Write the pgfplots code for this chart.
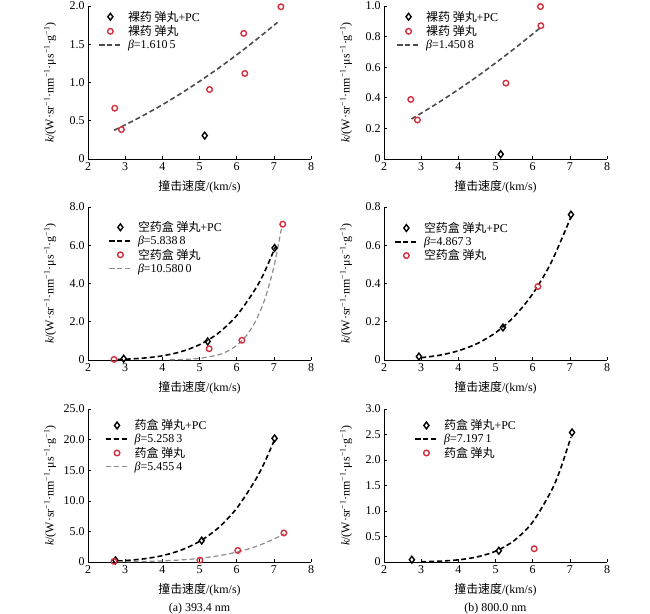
\documentclass[border=0pt]{standalone}
\usepackage{fontspec}
\setmainfont{Liberation Serif}
\newfontfamily\cjk{Noto Sans CJK SC}
\usepackage{pgfplots}
\pgfplotsset{compat=1.18}
\definecolor{myred}{RGB}{212,48,62}
\newcommand{\zh}[1]{{\cjk #1}}
\newcommand{\ylab}{\textit{k}/(W·sr\textsuperscript{−1}·nm\textsuperscript{−1}·μs\textsuperscript{−1}·g\textsuperscript{−1})}
\newcommand{\fs}{\fontsize{12}{13}\selectfont}
\pgfplotsset{
 myaxis/.style={
  scale only axis, width=223bp, height=153bp, anchor=south west,
  axis lines=left, axis line style={-, line width=0.6pt},
  xmin=2, xmax=8, ymin=0, xtick={2,3,...,8},
  tick align=inside, major tick length=3bp, tick style={line width=0.6pt, black},
  /pgf/number format/assume math mode=true,
  ticklabel style={font=\fs},
  label style={font=\fs},
  xlabel={\zh{撞击速度}/(km/s)},
  x label style={at={(axis description cs:0.5,-0.182)}, anchor=center},
  ylabel={\ylab},
  y label style={at={(axis description cs:-0.17,0.5)}, anchor=center},
  legend style={draw=none, fill=none, anchor=north west, font=\fs, inner sep=0pt, row sep=2bp,
     nodes={inner xsep=2.5bp, inner ysep=0.5bp},
     /tikz/every odd column/.append style={column sep=3bp}},
  legend cell align=left,
  legend image code/.code={\draw[mark repeat=2,mark phase=2,##1] plot coordinates {(0cm,0cm) (0.4cm,0cm) (0.8cm,0cm)};},
  title style={at={(axis description cs:0.5,-0.345)}, anchor=center, font=\fs},
  clip=false,
 },
 dia/.style={only marks, mark=diamond, mark size=3.4bp, mark options={solid, draw=black, fill=white, line width=1.4pt}},
 cir/.style={only marks, mark=o, mark size=2.8bp, mark options={solid, draw=myred, line width=1.4pt}},
 fitd/.style={no marks, smooth, black!70, dash pattern=on 5bp off 3bp, line width=1.6pt},
 fitb/.style={no marks, smooth, black, dash pattern=on 5bp off 3bp, line width=1.6pt},
 fitg/.style={no marks, smooth, black!45, dash pattern=on 5bp off 3bp, line width=1.2pt},
}
\begin{document}
\begin{tikzpicture}
\useasboundingbox (0,0) rectangle (650bp,614bp);
% ---------- top left
\begin{axis}[myaxis, at={(88bp,455bp)}, ymax=2.0,
  ytick={0,0.5,1,1.5,2}, yticklabels={0,0.5,1.0,1.5,2.0},
  legend style={at={(rel axis cs:0.045,0.972)}}]
\addplot[dia] coordinates {(5.14,0.306)};
\addlegendentry{\zh{裸药 弹丸}+PC}
\addplot[cir] coordinates {(2.72,0.664) (2.90,0.384) (5.27,0.908) (6.19,1.642) (6.22,1.118) (7.19,1.99)};
\addlegendentry{\zh{裸药 弹丸}}
\addplot[fitd] coordinates {(2.7,0.376) (3,0.446) (3.5,0.572) (4,0.709) (4.5,0.857) (5,1.015) (5.5,1.183) (6,1.361) (6.5,1.549) (7.1,1.786)};
\addlegendentry{\textit{β}=1.610\,5}
\end{axis}
% ---------- top right
\begin{axis}[myaxis, at={(384bp,455bp)}, ymax=1.0,
  ytick={0,0.2,0.4,0.6,0.8,1.0}, yticklabels={0,0.2,0.4,0.6,0.8,1.0},
  legend style={at={(rel axis cs:0.055,0.972)}}]
\addplot[dia] coordinates {(5.14,0.031)};
\addlegendentry{\zh{裸药 弹丸}+PC}
\addplot[cir] coordinates {(2.72,0.389) (2.90,0.255) (5.28,0.496) (6.21,0.996) (6.22,0.871)};
\addlegendentry{\zh{裸药 弹丸}}
\addplot[fitd] coordinates {(2.74,0.262) (3,0.299) (3.5,0.374) (4,0.454) (4.5,0.538) (5,0.627) (5.5,0.720) (6,0.817) (6.2,0.857)};
\addlegendentry{\textit{β}=1.450\,8}
\end{axis}
% ---------- middle left
\begin{axis}[myaxis, at={(88bp,254bp)}, ymax=8.0,
  ytick={0,2,4,6,8}, yticklabels={0,2.0,4.0,6.0,8.0},
  legend style={at={(rel axis cs:0.09,0.91)}}]
\addplot[dia] coordinates {(2.96,0.07) (5.22,0.97) (7.02,5.86)};
\addlegendentry{\zh{空药盒 弹丸}+PC}
\addplot[fitb] coordinates {(2.8,0.027) (3,0.041) (3.5,0.100) (4,0.217) (4.5,0.432) (5,0.800) (5.5,1.395) (6,2.318) (6.5,3.699) (6.75,4.608) (7.05,5.947)};
\addlegendentry{\textit{β}=5.838\,8}
\addplot[cir] coordinates {(2.70,0.03) (5.26,0.59) (6.14,1.03) (7.24,7.10)};
\addlegendentry{\zh{空药盒 弹丸}}
\addplot[fitg] coordinates {(4.2,0.01) (4.5,0.024) (5,0.086) (5.5,0.268) (5.75,0.457) (6,0.763) (6.25,1.245) (6.5,1.993) (6.75,3.135) (7,4.850) (7.22,7.03)};
\addlegendentry{\textit{β}=10.580\,0}
\end{axis}
% ---------- middle right
\begin{axis}[myaxis, at={(384bp,254bp)}, ymax=0.8,
  ytick={0,0.2,0.4,0.6,0.8}, yticklabels={0,0.2,0.4,0.6,0.8},
  legend style={at={(rel axis cs:0.045,0.905)}}]
\addplot[dia] coordinates {(2.94,0.018) (5.20,0.170) (7.03,0.760)};
\addlegendentry{\zh{空药盒 弹丸}+PC}
\addplot[fitb] coordinates {(3,0.0119) (3.5,0.0251) (4,0.0481) (4.5,0.0853) (5,0.1425) (5.5,0.2266) (6,0.3459) (6.5,0.5106) (7.03,0.748)};
\addlegendentry{\textit{β}=4.867\,3}
\addplot[cir] coordinates {(6.14,0.384)};
\addlegendentry{\zh{空药盒 弹丸}}
\end{axis}
% ---------- bottom left
\begin{axis}[myaxis, at={(88bp,52bp)}, ymax=25,
  ytick={0,5,10,15,20,25}, yticklabels={0,5.0,10.0,15.0,20.0,25.0},
  legend style={at={(rel axis cs:0.075,0.935)}},
  title={(a) 393.4 nm}]
\addplot[dia] coordinates {(2.74,0.27) (5.06,3.50) (7.02,20.2)};
\addlegendentry{\zh{药盒 弹丸}+PC}
\addplot[fitb] coordinates {(2.8,0.159) (3,0.229) (3.5,0.515) (4,1.039) (4.5,1.930) (5,3.359) (5.5,5.543) (6,8.761) (6.5,13.35) (6.75,16.27) (7.02,20.0)};
\addlegendentry{\textit{β}=5.258\,3}
\addplot[cir] coordinates {(2.70,0.10) (5.01,0.30) (6.03,1.89) (7.27,4.74)};
\addlegendentry{\zh{药盒 弹丸}}
\addplot[fitg] coordinates {(2.8,0.025) (3,0.037) (3.5,0.085) (4,0.177) (4.5,0.336) (5,0.596) (5.5,1.003) (6,1.612) (6.5,2.493) (7,3.738) (7.28,4.63)};
\addlegendentry{\textit{β}=5.455\,4}
\end{axis}
% ---------- bottom right
\begin{axis}[myaxis, at={(384bp,52bp)}, ymax=3.0,
  ytick={0,0.5,1,1.5,2,2.5,3}, yticklabels={0,0.5,1.0,1.5,2.0,2.5,3.0},
  legend style={at={(rel axis cs:0.135,0.935)}},
  title={(b) 800.0 nm}]
\addplot[dia] coordinates {(2.75,0.045) (5.09,0.22) (7.06,2.54)};
\addlegendentry{\zh{药盒 弹丸}+PC}
\addplot[fitb] coordinates {(3,0.0053) (3.5,0.0162) (4,0.0423) (4.5,0.0988) (5,0.211) (5.5,0.419) (6,0.783) (6.5,1.393) (6.75,1.828) (7.03,2.45)};
\addlegendentry{\textit{β}=7.197\,1}
\addplot[cir] coordinates {(6.04,0.26)};
\addlegendentry{\zh{药盒 弹丸}}
\end{axis}
\end{tikzpicture}
\end{document}
